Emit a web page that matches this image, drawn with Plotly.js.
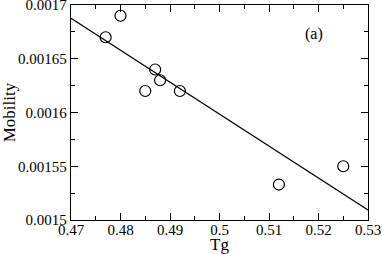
<!DOCTYPE html>
<html>
<head>
<meta charset="utf-8">
<script src="https://cdn.plot.ly/plotly-3.0.1.min.js"></script>
<style>
  html, body { margin: 0; padding: 0; background: white; }
  #chart { width: 382px; height: 254px; }
</style>
</head>
<body>
<div id="chart"></div>
<script>
// measured points
const tgValues = [0.477, 0.480, 0.485, 0.487, 0.488, 0.492, 0.512, 0.525];
const mobilityValues = [0.00167, 0.00169, 0.00162, 0.00164, 0.00163, 0.00162, 0.001533, 0.00155];

// linear fit, end points
const fitTg = [0.47, 0.53];
const fitMobility = [0.0016876, 0.0015093];

const xTickVals = [0.47, 0.48, 0.49, 0.5, 0.51, 0.52, 0.53];
const xTickText = ['0.47', '0.48', '0.49', '0.5', '0.51', '0.52', '0.53'];
const yTickVals = [0.0015, 0.00155, 0.0016, 0.00165, 0.0017];
const yTickText = ['0.0015', '0.00155', '0.0016', '0.00165', '0.0017'];

const serif = 'Liberation Serif';

const traces = [
    {
        x: fitTg,
        y: fitMobility,
        type: 'scatter',
        mode: 'lines',
        line: { color: 'black', width: 1.3 },
        hoverinfo: 'skip'
    },
    {
        x: tgValues,
        y: mobilityValues,
        type: 'scatter',
        mode: 'markers',
        marker: {
            symbol: 'circle-open',
            size: 11,
            color: 'black',
            line: { color: 'black', width: 1.2 }
        }
    }
];

const axisCommon = {
    showline: true,
    linecolor: 'black',
    linewidth: 1.3,
    mirror: 'allticks',
    ticks: 'inside',
    ticklen: 7,
    tickwidth: 1,
    tickcolor: 'black',
    showgrid: false,
    zeroline: false,
    ticklabeloverflow: 'allow',
    tickfont: { family: serif, size: 15, color: 'black' }
};

const layout = {
    width: 382,
    height: 254,
    margin: { t: 5, r: 14, b: 34, l: 71 },
    plot_bgcolor: 'white',
    paper_bgcolor: 'white',
    showlegend: false,
    font: { family: serif, color: 'black' },
    xaxis: {
        ...axisCommon,
        range: [0.47, 0.53],
        tickmode: 'array',
        tickvals: xTickVals,
        ticktext: xTickText,
        ticklabelstandoff: -4,
        minor: { ticks: 'inside', ticklen: 4, dtick: 0.005, tick0: 0.47, tickcolor: 'black', showgrid: false },
        title: { text: 'Tg', font: { family: serif, size: 17, color: 'black' }, standoff: 2 }
    },
    yaxis: {
        ...axisCommon,
        range: [0.0015, 0.00170001],
        tickmode: 'array',
        tickvals: yTickVals,
        ticktext: yTickText,
        minor: { ticks: 'inside', ticklen: 4, dtick: 0.000025, tick0: 0.0015, tickcolor: 'black', showgrid: false },
        title: { text: 'Mobility', font: { family: serif, size: 17, color: 'black' }, standoff: 2 }
    },
    annotations: [
        {
            x: 0.519, y: 0.001673, xref: 'x', yref: 'y',
            text: '(a)', showarrow: false,
            font: { family: serif, size: 16, color: 'black' }
        }
    ]
};

Plotly.newPlot('chart', traces, layout, { displayModeBar: false, staticPlot: true });
</script>
</body>
</html>
